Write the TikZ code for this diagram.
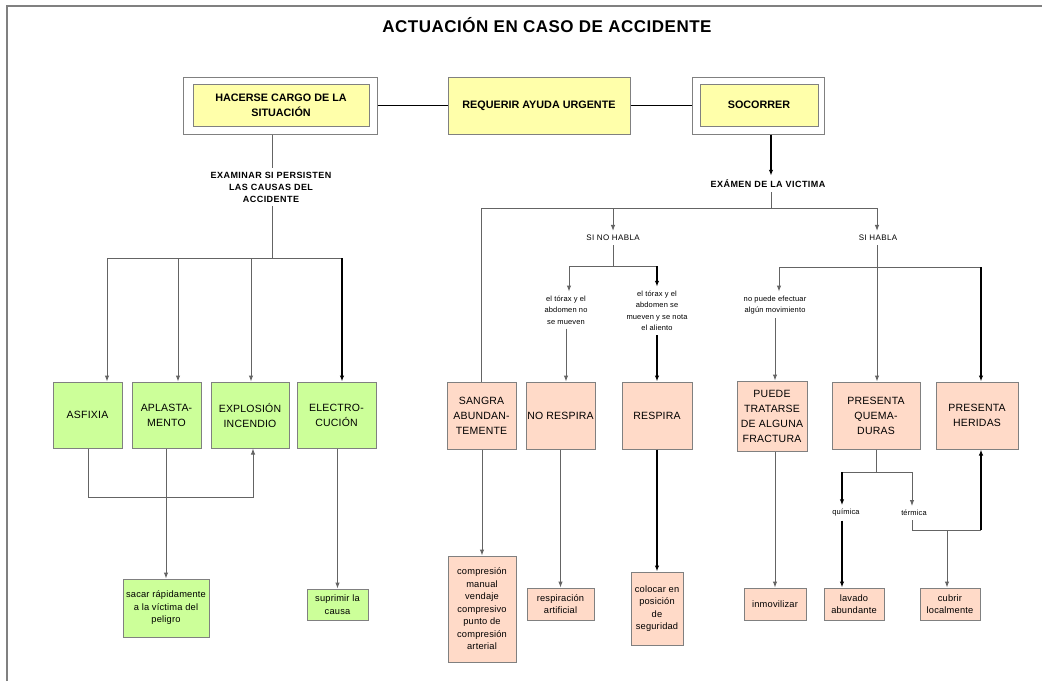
\documentclass[tikz,border=0pt]{standalone}
\usepackage{fontspec}
\setmainfont{Liberation Sans}
\newfontfamily\lsf[LetterSpace=2]{Liberation Sans}
\newfontfamily\lsw[LetterSpace=5]{Liberation Sans}
\newfontfamily\lst[LetterSpace=3]{Liberation Sans}
\usetikzlibrary{arrows.meta}
\definecolor{yfill}{RGB}{255,255,170}
\definecolor{gfill}{RGB}{204,255,153}
\definecolor{pfill}{RGB}{255,218,200}
\definecolor{bgray}{RGB}{128,128,128}
\definecolor{lgray}{RGB}{100,100,100}
\tikzset{
  box/.style={draw=bgray, line width=1pt, align=center, inner sep=0pt, font=\lsf\fontsize{10.5}{15}\selectfont},
  gbox/.style={box, fill=gfill},
  pbox/.style={box, fill=pfill},
  sbox/.style={box, font=\lsf\fontsize{9.3}{12.5}\selectfont},
  ybox/.style={box, fill=yfill, font=\bfseries\fontsize{10.8}{15}\selectfont},
  frame/.style={draw=bgray, line width=1pt, fill=white},
  lab/.style={align=center, inner sep=4pt},
  blab/.style={lab, font=\lsw\bfseries\fontsize{9}{12}\selectfont},
  mlab/.style={lab, font=\lsw\fontsize{8}{11}\selectfont},
  tlab/.style={lab, font=\lsf\fontsize{7.5}{11.5}\selectfont},
  conn/.style={draw=lgray, line width=1pt},
  dconn/.style={draw=black, line width=1.2pt},
}
\begin{document}
\begin{tikzpicture}[x=1pt,y=-1pt, >={Latex[length=6pt,width=4.5pt]}]
\useasboundingbox (0,0) rectangle (1042,681);
\fill[white] (0,0) rectangle (1042,681);
% page frame
\draw[bgray, line width=1.6pt] (7,681) -- (7,6) -- (1042,6);

% title
\node[font=\lst\bfseries\fontsize{17}{20}\selectfont] (title) at (547,25) {ACTUACIÓN EN CASO DE ACCIDENTE};

% top row
\node[frame, minimum width=194, minimum height=57] (hacF) at (280,105.5) {};
\node[ybox, minimum width=176, minimum height=42] (hac) at (281,105) {HACERSE CARGO DE LA\\SITUACIÓN};
\node[ybox, minimum width=182, minimum height=57] (req) at (539,105.5) {REQUERIR AYUDA URGENTE};
\node[frame, minimum width=132, minimum height=57] (socF) at (758,105.5) {};
\node[ybox, minimum width=118, minimum height=42] (soc) at (759,105) {SOCORRER};

\draw[dconn] (hacF.east) -- (req.west);
\draw[dconn] (req.east) -- (socF.west);

% left branch
\node[blab] (exa) at (271,187) {EXAMINAR SI PERSISTEN\\LAS CAUSAS DEL\\ACCIDENTE};
\coordinate (hb) at (272,258);
\coordinate (hbL) at (107,258);
\coordinate (hb2) at (178,258);
\coordinate (hb3) at (251,258);
\coordinate (hbR) at (342,258);

\node[gbox, minimum width=69, minimum height=66] (asf) at (87.5,415) {ASFIXIA};
\node[gbox, minimum width=69, minimum height=66] (apl) at (166.5,415) {APLASTA-\\MENTO};
\node[gbox, minimum width=78, minimum height=66] (exp) at (250,415) {EXPLOSIÓN\\INCENDIO};
\node[gbox, minimum width=79, minimum height=66] (ele) at (336.5,415) {ELECTRO-\\CUCIÓN};

\node[sbox, fill=gfill, minimum width=86, minimum height=58] (sacar) at (166,608) {sacar rápidamente\\a la víctima del\\peligro};
\node[sbox, fill=gfill, minimum width=61, minimum height=31] (supr) at (337.5,604.5) {suprimir la\\causa};

\draw[conn] (hacF.south -| hb) -- (hb |- exa.north);
\draw[conn] (hb |- exa.south) -- (hb);
\draw[conn] (hbL) -- (hbR);
\draw[conn,->] (hbL) -- (asf.north -| hbL);
\draw[conn,->] (hb2) -- (apl.north -| hb2);
\draw[conn,->] (hb3) -- (exp.north -| hb3);
\draw[dconn,->] (hbR) -- (ele.north -| hbR);

\coordinate (lp1) at (88,497);
\coordinate (lp2) at (253,497);
\draw[conn,->] (asf.south -| lp1) -- (lp1) -- (lp2) -- (exp.south -| lp2);
\draw[conn,->] (apl.south -| sacar.north) -- (sacar.north);
\draw[conn,->] (ele.south -| supr.north) -- (supr.north);

% right branch
\node[blab] (exv) at (768,184) {EXÁMEN DE LA VICTIMA};
\coordinate (vb) at (771,208);
\coordinate (vL) at (481,208);
\coordinate (vM) at (613,208);
\coordinate (vR) at (877,208);
\draw[dconn,->] (socF.south -| vb) -- (vb |- exv.north);
\draw[conn] (vb |- exv.south) -- (vb);
\draw[conn] (vL) -- (vR);

\node[mlab] (sinh) at (613,238) {SI NO HABLA};
\node[mlab] (sih) at (878,238) {SI HABLA};
\draw[conn,->] (vM) -- (vM |- sinh.north);
\draw[conn,->] (vR) -- (vR |- sih.north);

\coordinate (nb) at (613,266);
\coordinate (nbL) at (569,266);
\coordinate (nbR) at (657,266);
\node[tlab] (t1) at (566,310) {el tórax y el\\abdomen no\\se mueven};
\node[tlab] (t2) at (657,311) {el tórax y el\\abdomen se\\mueven y se nota\\el aliento};
\draw[conn] (vM |- sinh.south) -- (nb);
\draw[conn] (nbL) -- (nbR);
\draw[conn,->] (nbL) -- (nbL |- t1.north);
\draw[dconn,->] (nbR) -- (nbR |- t2.north);

\coordinate (sbL) at (779,267);
\coordinate (sbR) at (981,267);
\node[tlab] (t3) at (775,305) {no puede efectuar\\algún movimiento};
\draw[conn] (sbL) -- (sbR);
\draw[conn,->] (sbL) -- (sbL |- t3.north);

\node[pbox, minimum width=69, minimum height=67] (sang) at (481.5,415.5) {SANGRA\\ABUNDAN-\\TEMENTE};
\node[pbox, minimum width=69, minimum height=67] (nores) at (560.5,415.5) {NO RESPIRA};
\node[pbox, minimum width=70, minimum height=67] (resp) at (657,415.5) {RESPIRA};
\node[pbox, minimum width=70, minimum height=70] (frac) at (772,416) {PUEDE\\TRATARSE\\DE ALGUNA\\FRACTURA};
\node[pbox, minimum width=88, minimum height=67] (quem) at (876,415.5) {PRESENTA\\QUEMA-\\DURAS};
\node[pbox, minimum width=82, minimum height=67] (her) at (977,415.5) {PRESENTA\\HERIDAS};

\draw[conn] (vL) -- (vL |- sang.north);
\draw[conn,->] (t1.south) -- (t1.south |- nores.north);
\draw[dconn,->] (t2.south) -- (t2.south |- resp.north);
\draw[conn,->] (t3.south) -- (t3.south |- frac.north);
\draw[conn,->] (vR |- sih.south) -- (vR |- quem.north);
\draw[dconn,->] (sbR) -- (sbR |- her.north);

% bottom boxes
\node[sbox, fill=pfill, minimum width=68, minimum height=106] (comp) at (482,609) {compresión\\manual\\vendaje\\compresivo\\punto de\\compresión\\arterial};
\node[sbox, fill=pfill, minimum width=67, minimum height=32] (resart) at (560.5,604) {respiración\\artificial};
\node[sbox, fill=pfill, minimum width=52, minimum height=73] (coloc) at (657,608.5) {colocar en\\posición\\de\\seguridad};
\node[sbox, fill=pfill, minimum width=62, minimum height=32] (inmov) at (775,604) {inmovilizar};
\node[sbox, fill=pfill, minimum width=60, minimum height=32] (lav) at (854,604) {lavado\\abundante};
\node[sbox, fill=pfill, minimum width=60, minimum height=32] (cub) at (950,604) {cubrir\\localmente};

\draw[conn,->] (sang.south -| comp.north) -- (comp.north);
\draw[conn,->] (nores.south -| resart.north) -- (resart.north);
\draw[dconn,->] (resp.south) -- (coloc.north);
\draw[conn,->] (inmov.north |- frac.south) -- (inmov.north);

\coordinate (qb) at (876,472);
\coordinate (qL) at (842,472);
\coordinate (qR) at (912,472);
\node[mlab, font=\lsf\fontsize{7.5}{9}\selectfont] (qui) at (846,513) {química};
\node[mlab, font=\lsf\fontsize{7.5}{9}\selectfont] (ter) at (914,513) {térmica};
\draw[conn] (quem.south) -- (qb);
\draw[conn] (qL) -- (qR);
\draw[dconn,->] (qL) -- (qL |- qui.north);
\draw[conn,->] (qR) -- (qR |- ter.north);
\draw[dconn,->] (qL |- qui.south) -- (qL |- lav.north);

\coordinate (tb) at (912,530);
\coordinate (tbR) at (981,530);
\coordinate (cb) at (947,530);
\draw[conn] (qR |- ter.south) -- (tb) -- (tbR);
\draw[dconn,->] (tbR) -- (tbR |- her.south);
\draw[conn,->] (cb) -- (cb |- cub.north);
\end{tikzpicture}
\end{document}
